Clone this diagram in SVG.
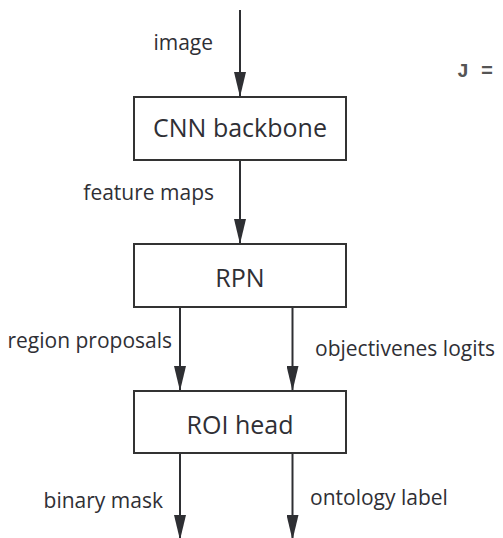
<svg xmlns="http://www.w3.org/2000/svg" width="503" height="538" viewBox="0 0 503 538">
<style>
.box{fill:#fff;stroke:#333;stroke-width:2}
.conn{stroke:#2e2f33;stroke-width:2;fill:none;marker-end:url(#ah)}
.node{font-family:"Open Sans","Noto Sans",sans-serif;font-size:25px;fill:#2f2f35;text-anchor:middle}
.lbl{font-family:"Open Sans","Noto Sans",sans-serif;font-size:21px;fill:#2f2f35}
.end{text-anchor:end}
.mono{font-family:"Liberation Mono","DejaVu Sans Mono",monospace;font-size:20px;fill:#555;font-weight:bold}
</style>
<defs>
<marker id="ah" markerUnits="userSpaceOnUse" markerWidth="25" markerHeight="12" refX="25" refY="6" orient="auto">
<path d="M0,0 L25,6 L0,12 z" fill="#2e2f33"/>
</marker>
</defs>
<rect width="503" height="538" fill="#fff"/>
<g id="connectors">
<line class="conn" x1="240" y1="10" x2="240" y2="97"/>
<line class="conn" x1="240" y1="161" x2="240" y2="244"/>
<line class="conn" x1="180" y1="308" x2="180" y2="391"/>
<line class="conn" x1="292.5" y1="308" x2="292.5" y2="391"/>
<line class="conn" x1="180" y1="454" x2="180" y2="540"/>
<line class="conn" x1="292.5" y1="454" x2="292.5" y2="540"/>
</g>
<g id="labels">
<text class="lbl end" x="213" y="50">image</text>
<text class="lbl end" x="214" y="200">feature maps</text>
<text class="lbl end" x="172" y="348">region proposals</text>
<text class="lbl" x="315" y="356">objectivenes logits</text>
<text class="lbl end" x="163" y="508">binary mask</text>
<text class="lbl" x="310" y="505">ontology label</text>
</g>
<g id="cnn">
<rect class="box" x="134" y="97" width="212" height="63"/>
<text class="node" x="240" y="137">CNN backbone</text>
</g>
<g id="rpn">
<rect class="box" x="134" y="244" width="212" height="63"/>
<text class="node" x="240" y="287">RPN</text>
</g>
<g id="roi">
<rect class="box" x="134" y="391" width="212" height="62"/>
<text class="node" x="240" y="434">ROI head</text>
</g>
<text class="mono" x="457" y="77">J =</text>
</svg>
